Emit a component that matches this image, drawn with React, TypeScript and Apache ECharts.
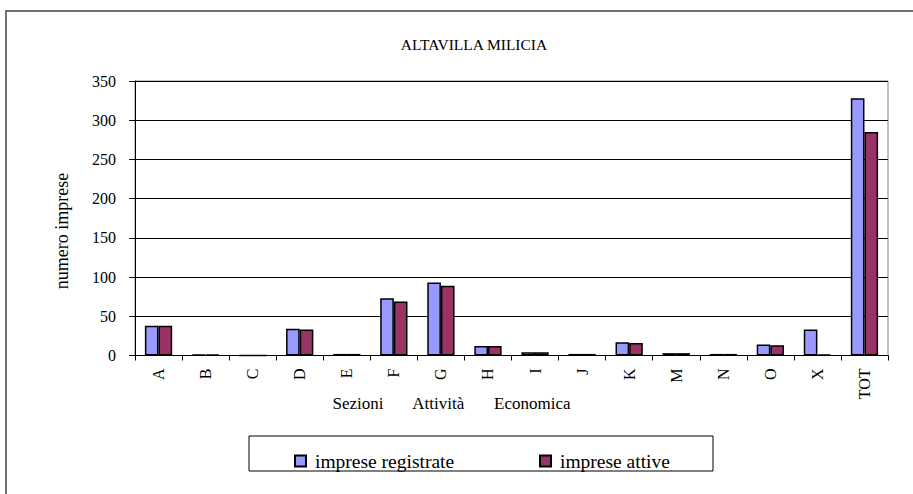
import React, { useEffect, useRef } from "react";
import * as echarts from "echarts";

const categories = ["A", "B", "C", "D", "E", "F", "G", "H", "I", "J", "K", "M", "N", "O", "X", "TOT"];
const registrate = [38, 1, 0, 34, 2, 73, 93, 12, 4, 2, 17, 3, 2, 14, 33, 328];
const attive = [38, 1, 0, 33, 2, 69, 89, 12, 4, 2, 16, 3, 2, 13, 1, 285];
const yTicks = [0, 50, 100, 150, 200, 250, 300, 350];
const titleText = "ALTAVILLA MILICIA";
const xAxisTitle = "Sezioni       Attività       Economica";
const yAxisTitle = "numero imprese";
const seriesNames = ["imprese registrate", "imprese attive"];

const FONT = "Liberation Serif";

export default function App() {
  const ref = useRef<HTMLDivElement>(null);
  useEffect(() => {
    if (!ref.current) return;
    const chart = echarts.init(ref.current, undefined, { renderer: "svg" });
    const legendText = { fontFamily: FONT, fontSize: 19.5, color: "#000", padding: [0, 0, 0, 4] };
    chart.setOption({
      animation: false,
      backgroundColor: "#ffffff",
      textStyle: { fontFamily: FONT, color: "#000" },
      grid: {
        left: 135,
        top: 81,
        right: 25,
        bottom: 138.5,
        show: true,
        borderColor: "#808080",
        borderWidth: 1,
        containLabel: false,
      },
      legend: [
        {
          left: 289,
          top: 446,
          itemWidth: 11,
          itemHeight: 11,
          icon: "rect",
          textStyle: legendText,
          data: [seriesNames[0]],
        },
        {
          left: 534,
          top: 446,
          itemWidth: 11,
          itemHeight: 11,
          icon: "rect",
          textStyle: legendText,
          data: [seriesNames[1]],
        },
      ],
      xAxis: {
        type: "category",
        data: categories,
        axisLine: { lineStyle: { color: "#000", width: 1 } },
        axisTick: { show: true, length: 5, lineStyle: { color: "#000" } },
        axisLabel: {
          rotate: 90,
          margin: 13,
          fontFamily: FONT,
          fontSize: 16,
          color: "#000",
          interval: 0,
        },
      },
      yAxis: {
        type: "value",
        min: 0,
        max: 350,
        interval: 50,
        axisLine: { show: true, lineStyle: { color: "#000", width: 1 } },
        axisTick: { show: true, length: 6, lineStyle: { color: "#000" } },
        axisLabel: {
          margin: 19,
          fontFamily: FONT,
          fontSize: 16,
          color: "#000",
          formatter: (v: number) => (yTicks.includes(v) ? String(v) : ""),
        },
        splitLine: { show: true, lineStyle: { color: "#000", width: 1 } },
      },
      series: [
        {
          name: seriesNames[0],
          type: "bar",
          data: registrate,
          barGap: "0%",
          barCategoryGap: "42%",
          itemStyle: { color: "#9999FF", borderColor: "#000", borderWidth: 1.5 },
        },
        {
          name: seriesNames[1],
          type: "bar",
          data: attive,
          barGap: "0%",
          barCategoryGap: "42%",
          itemStyle: { color: "#993366", borderColor: "#000", borderWidth: 1.5 },
        },
      ],
      graphic: [
        {
          type: "rect",
          shape: { x: 6, y: 11, width: 1200, height: 1000 },
          style: { fill: "none", stroke: "#444", lineWidth: 1.5 },
          silent: true,
        },
        {
          type: "rect",
          shape: { x: 249, y: 436, width: 464, height: 35 },
          style: { fill: "none", stroke: "#000", lineWidth: 1 },
          silent: true,
        },
        {
          type: "text",
          x: 474,
          y: 44,
          style: {
            text: titleText,
            fontFamily: FONT,
            fontSize: 15.5,
            fill: "#000",
            align: "center",
            verticalAlign: "middle",
          },
          silent: true,
        },
        {
          type: "text",
          x: 451.5,
          y: 403,
          style: {
            text: xAxisTitle,
            fontFamily: FONT,
            fontSize: 17,
            fill: "#000",
            align: "center",
            verticalAlign: "middle",
          },
          silent: true,
        },
        {
          type: "text",
          x: 62,
          y: 231,
          rotation: Math.PI / 2,
          style: {
            text: yAxisTitle,
            fontFamily: FONT,
            fontSize: 18,
            fill: "#000",
            align: "center",
            verticalAlign: "middle",
          },
          silent: true,
        },
      ],
    });
    return () => chart.dispose();
  }, []);
  return (
    <div
      ref={ref}
      style={{ position: "absolute", left: 0, top: 0, width: 913, height: 494 }}
    />
  );
}
